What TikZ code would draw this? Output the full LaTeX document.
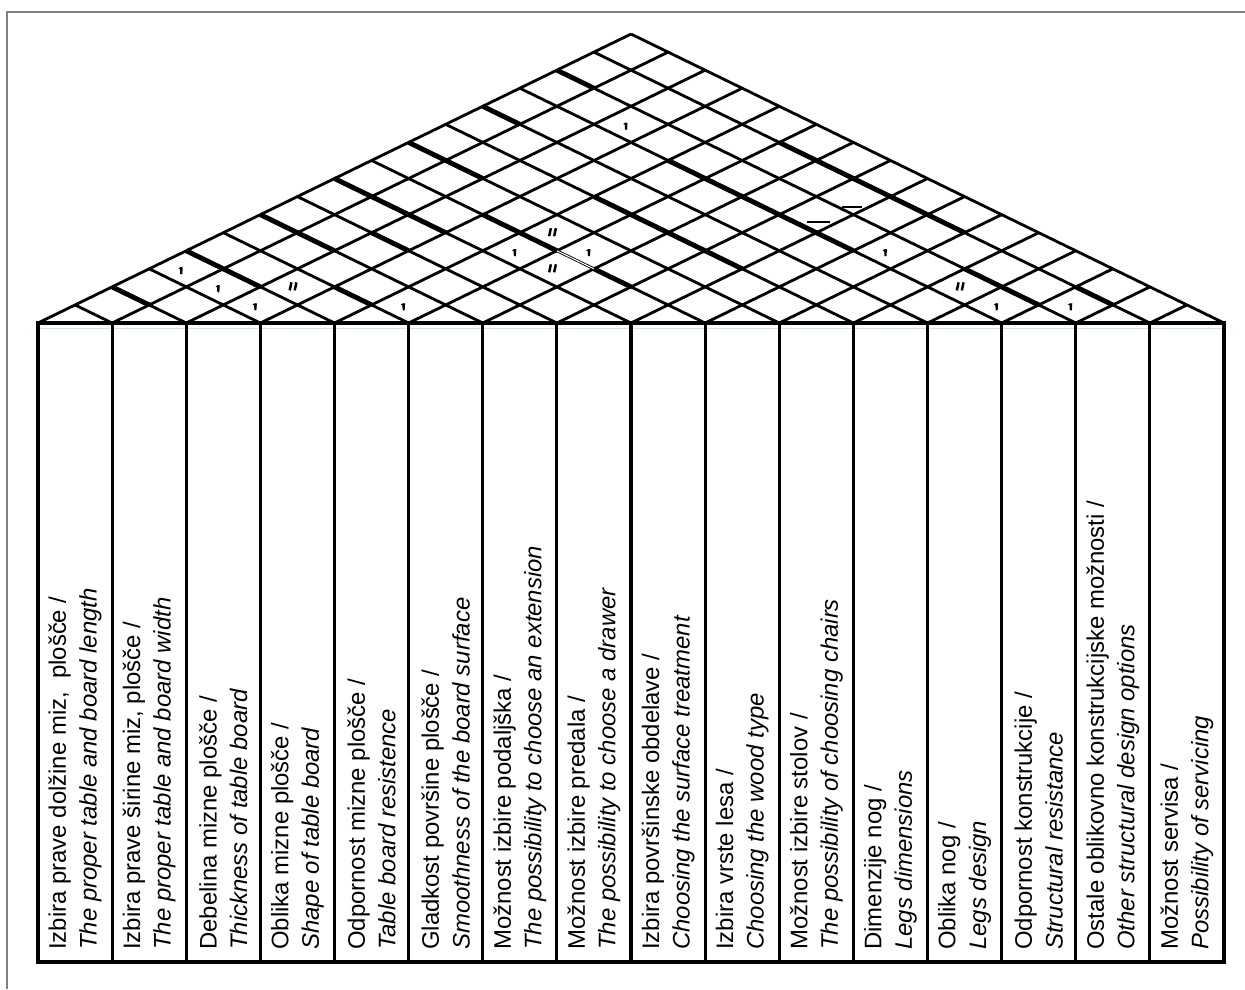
\documentclass[tikz,border=0pt]{standalone}
\usepackage{fontspec}
\setmainfont{Liberation Sans}
\definecolor{framegray}{RGB}{128,128,128}
\definecolor{basegreen}{RGB}{200,240,200}

\begin{document}
\begin{tikzpicture}[x=0.74125cm,y=0.3612cm,
    roof/.style={line width=1.6pt},
    heavy/.style={line width=2.8pt},
    col/.style={line width=1.8pt},
    req/.style={rotate=90,anchor=west,align=left,inner sep=0pt,font=\fontsize{13.6}{17.4}\selectfont},
    onemark/.pic={\fill (-0.055cm,0.05cm) -- (-0.01cm,0.075cm) -- (0.03cm,0.07cm) -- (0.02cm,-0.07cm) -- (-0.02cm,-0.065cm) -- (-0.025cm,0.03cm) -- cycle;},
    twomark/.pic={\draw[line width=1.4pt] (-0.04cm,0.09cm) -- (-0.075cm,-0.07cm) (0.06cm,0.09cm) -- (0.025cm,-0.07cm);}]

    \useasboundingbox (-1.0253,-36.877) rectangle (32.566,17.885);
    \draw[framegray,line width=0.8pt] (-0.836,-36.877) -- (-0.836,17.22) -- (32.566,17.22);

    % roof
    \foreach \k in {0,...,15} \draw[roof] (2*\k,0) -- (16+\k,16-\k);
    \foreach \k in {1,...,16} \draw[roof] (2*\k,0) -- (\k,\k);
    \foreach \k/\a/\b in {2/2/1,4/4/2,6/6/4,8/8/5,10/10/8,12/12/11,14/14/13,5/2/1,7/5/4,9/6/4,9/3/2,11/7/3,13/9/4,15/10/5,15/2/1,14/3/1}
        \draw[heavy] (2*\k-\a,\a) -- (2*\k-\b,\b);
    \draw[white,line width=0.6pt] (14,4) -- (15,3);
    \draw[line width=1.2pt] (20.75,5.59) -- (21.37,5.59);
    \draw[line width=1.2pt] (21.69,6.42) -- (22.23,6.42);

    % marks
    \foreach \i/\j in {0/3,1/3,2/3,4/5,2/13,4/8,5/9,9/13,12/13,13/14}
        \pic[xshift=-0.1cm,yshift=-0.04cm] at (\i+\j+1,\j-\i) {onemark};
    \foreach \i/\j in {2/4,4/9,5/8,11/13}
        \pic[xshift=-0.08cm] at (\i+\j+1,\j-\i) {twomark};

    % columns
    \draw[basegreen,line width=0.6pt] (0,-0.28) -- (32,-0.28);
    \draw[col] (0,0) rectangle (32,-35.38);
    \foreach \k in {1,...,15} \draw[col] (2*\k,0) -- (2*\k,-35.38);
    \draw[heavy] (0,0) -- (32,0);

    \node[req] (req1) at (1,-34.72) {Izbira prave dolžine miz,\ \ plošče /\\\textit{The proper table and board length}};
    \node[req] (req2) at (3,-34.72) {Izbira prave širine miz, plošče /\\\textit{The proper table and board width}};
    \node[req] (req3) at (5,-34.72) {Debelina mizne plošče /\\\textit{Thickness of table board}};
    \node[req] (req4) at (7,-34.72) {Oblika mizne plošče /\\\textit{Shape of table board}};
    \node[req] (req5) at (9,-34.72) {Odpornost mizne plošče /\\\textit{Table board resistence}};
    \node[req] (req6) at (11,-34.72) {Gladkost površine plošče /\\\textit{Smoothness of the board surface}};
    \node[req] (req7) at (13,-34.72) {Možnost izbire podaljška /\\\textit{The possibility to choose an extension}};
    \node[req] (req8) at (15,-34.72) {Možnost izbire predala /\\\textit{The possibility to choose a drawer}};
    \node[req] (req9) at (17,-34.72) {Izbira površinske obdelave /\\\textit{Choosing the surface treatment}};
    \node[req] (req10) at (19,-34.72) {Izbira vrste lesa /\\\textit{Choosing the wood type}};
    \node[req] (req11) at (21,-34.72) {Možnost izbire stolov /\\\textit{The possibility of choosing chairs}};
    \node[req] (req12) at (23,-34.72) {Dimenzije nog /\\\textit{Legs dimensions}};
    \node[req] (req13) at (25,-34.72) {Oblika nog /\\\textit{Legs design}};
    \node[req] (req14) at (27,-34.72) {Odpornost konstrukcije /\\\textit{Structural resistance}};
    \node[req] (req15) at (29,-34.72) {Ostale oblikovno konstrukcijske možnosti /\\\textit{Other structural design options}};
    \node[req] (req16) at (31,-34.72) {Možnost servisa /\\\textit{Possibility of servicing}};
\end{tikzpicture}
\end{document}
